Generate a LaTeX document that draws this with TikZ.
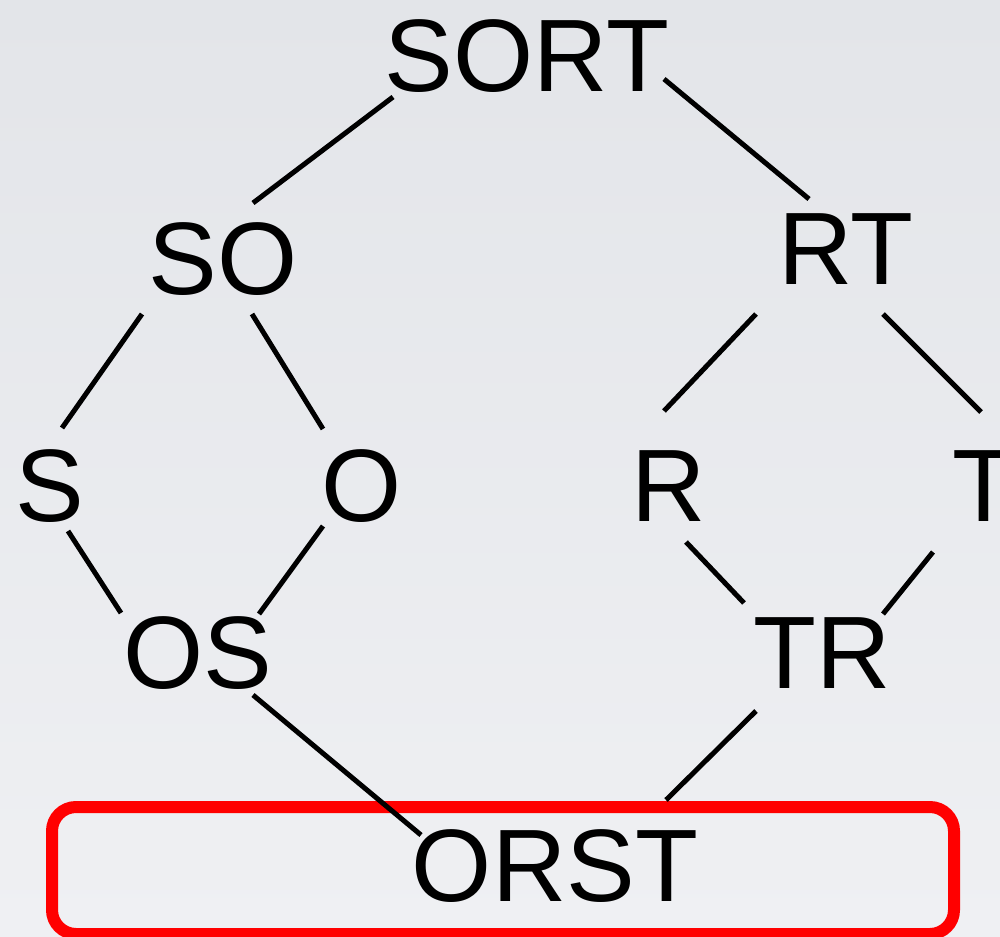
\documentclass[tikz,border=0pt]{standalone}
\usepackage{fontspec}
\setmainfont{Liberation Sans}
\usetikzlibrary{calc}
\definecolor{bgtop}{HTML}{E3E5E9}
\definecolor{bgbot}{HTML}{EFF0F3}
\definecolor{boxred}{HTML}{FF0000}
\tikzset{
  lbl/.style={inner sep=0pt, anchor=base, font=\fontsize{103}{110}\selectfont},
  edge/.style={line width=5pt, black},
  frame/.style={draw=boxred, line width=12pt, rounded corners=24pt, inner sep=0pt}
}
\begin{document}
\begin{tikzpicture}[x=1pt,y=-1pt]
\useasboundingbox (0,0) rectangle (1000,936);
\clip (0,0) rectangle (1000,936);
\shade[top color=bgtop, bottom color=bgbot] (0,0) rectangle (1000,936);
\node[frame, minimum width=902pt, minimum height=127pt] (box) at (503,870.5) {};
\node[lbl] (sort) at (527,92) {SORT};
\node[lbl] (so) at (223,294) {SO};
\node[lbl] (rt) at (846,284) {RT};
\node[lbl] (s) at (50,521) {S};
\node[lbl] (o) at (362,521) {O};
\node[lbl] (r) at (669,521) {R};
\node[lbl] (t) at (984,521) {T};
\node[lbl] (os) at (198,688) {OS};
\node[lbl] (tr) at (822,688) {TR};
\node[lbl] (orst) at (555,901) {ORST};
\draw[edge] ($(sort.base)+(-134,5)$) -- ($(so.base)+(30,-91)$);
\draw[edge] ($(sort.base)+(137,-13)$) -- ($(rt.base)+(-37,-85)$);
\draw[edge] ($(so.base)+(-81,20)$) -- ($(s.base)+(12,-93)$);
\draw[edge] ($(so.base)+(29,20)$) -- ($(o.base)+(-39,-92)$);
\draw[edge] ($(rt.base)+(-90,30)$) -- ($(r.base)+(-5,-110)$);
\draw[edge] ($(rt.base)+(37,30)$) -- ($(t.base)+(-3,-109)$);
\draw[edge] ($(s.base)+(18,10)$) -- ($(os.base)+(-77,-75)$);
\draw[edge] ($(o.base)+(-39,5)$) -- ($(os.base)+(61,-74)$);
\draw[edge] ($(r.base)+(17,21)$) -- ($(tr.base)+(-78,-85)$);
\draw[edge] ($(t.base)+(-51,31)$) -- ($(tr.base)+(61,-74)$);
\draw[edge] ($(os.base)+(55,7)$) -- ($(orst.base)+(-134,-66)$);
\draw[edge] ($(tr.base)+(-66,23)$) -- ($(orst.base)+(111,-101)$);
\end{tikzpicture}
\end{document}
